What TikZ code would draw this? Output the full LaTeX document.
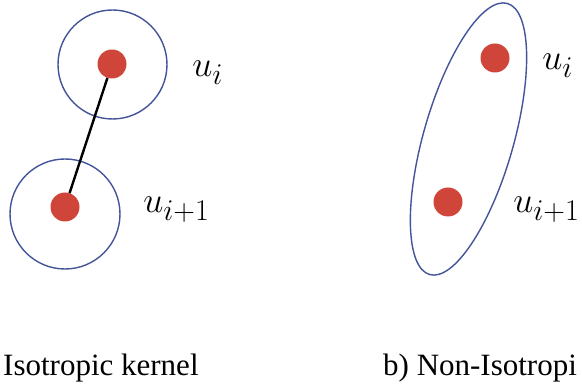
\documentclass[tikz,border=0pt]{standalone}
\usepackage{fontspec}
\setmainfont{Liberation Serif}
\newfontfamily\capfont{Liberation Serif}
\usepackage{tikz}
\usetikzlibrary{positioning}
\definecolor{ringblue}{HTML}{44549A}
\definecolor{dotred}{HTML}{D0453A}

\begin{document}
\begin{tikzpicture}[x=1pt, y=-1pt,
    ring/.style={draw=ringblue, line width=1.4pt},
    sample/.style={circle, fill=dotred, minimum size=29pt, inner sep=0pt},
    tag/.style={anchor=base west, inner sep=0pt, font=\Huge, scale=1.45},
    caption/.style={anchor=base west, inner sep=0pt, font=\capfont\fontsize{31}{36}\selectfont}]
  \clip (0,0) rectangle (582,390);
  \fill[white] (0,0) rectangle (582,390);
  % isotropic: one round kernel per sample
  \draw[ring] (112.5,64.5) circle (54.5);
  \draw[ring] (65,214) circle (55);
  \node[sample] (ui) at (112,64) {};
  \node[sample] (uj) at (65,207) {};
  \draw[line width=2.4pt] (ui) -- (uj);
  \node[tag] (lui) at (192,77) {$u_i$};
  \node[tag] (luj) at (143,213) {$u_{i+1}$};
  % non-isotropic: one stretched kernel over both samples
  \draw[ring] (468.5,139) ellipse[x radius=141, y radius=45, rotate=74];
  \node[sample] (vi) at (495,58) {};
  \node[sample] (vj) at (448,202) {};
  \node[tag] (lvi) at (542,70) {$u_i$};
  \node[tag] (lvj) at (513,213) {$u_{i+1}$};
  % captions
  \node[caption] (capa) at (3,376) {Isotropic kernel};
  \node[caption] (capb) at (383,376) {b) Non-Isotropi};
\end{tikzpicture}
\end{document}
